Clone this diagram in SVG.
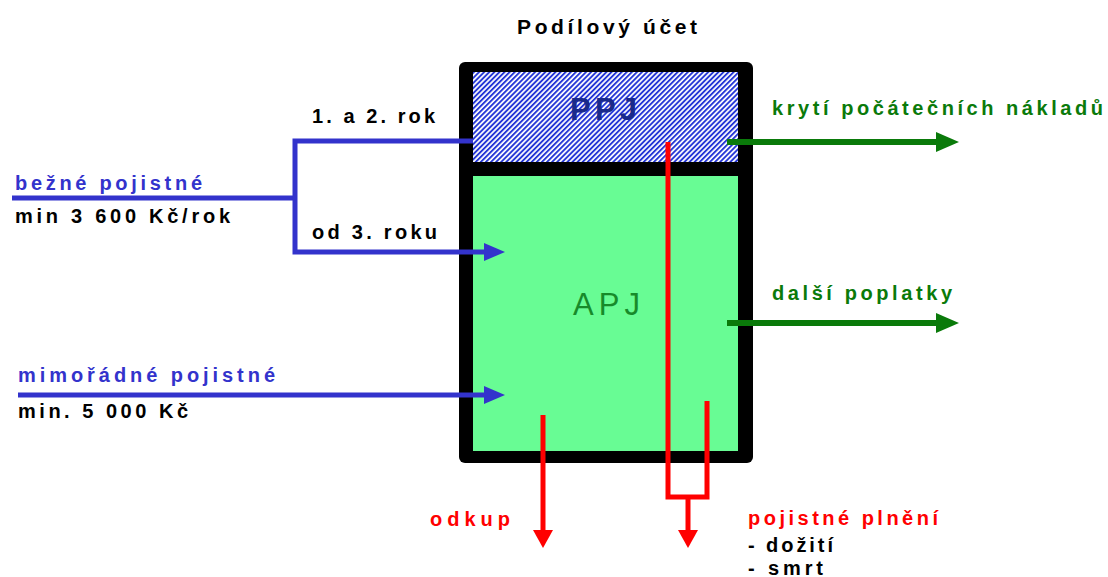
<svg xmlns="http://www.w3.org/2000/svg" width="1108" height="577" viewBox="0 0 1108 577">
  <style>
    text { font-family: "Liberation Sans", Arial, sans-serif; font-weight: bold; font-size: 20px; }
    .t21 { font-size: 21px; }
    .big { font-size: 31px; }
    .reg { font-weight: normal; }
    .blk { fill: #000000; }
    .blu { fill: #3333cc; }
    .grn { fill: #0a7a0a; }
    .red { fill: #ff0000; }
    .cb { fill: none; stroke: #3333cc; stroke-width: 5; stroke-linejoin: miter; }
    .cg { fill: none; stroke: #0a7a0a; stroke-width: 6; }
    .cr { fill: none; stroke: #ff0000; stroke-width: 5; stroke-linejoin: miter; }
  </style>
  <defs>
    <pattern id="hatch" width="3.6" height="10" patternUnits="userSpaceOnUse" patternTransform="rotate(45)">
      <rect width="3.6" height="10" fill="#ffffff"/>
      <rect width="1.9" height="10" fill="#2536d6"/>
    </pattern>
    <marker id="ab" markerUnits="userSpaceOnUse" viewBox="0 -9 21 18" markerWidth="21" markerHeight="18" refX="0" refY="0" orient="auto" overflow="visible">
      <path d="M0,-9 L21,0 L0,9 z" fill="#3333cc"/>
    </marker>
    <marker id="ag" markerUnits="userSpaceOnUse" viewBox="0 -10 23 20" markerWidth="23" markerHeight="20" refX="0" refY="0" orient="auto" overflow="visible">
      <path d="M0,-10 L23,0 L0,10 z" fill="#0a7a0a"/>
    </marker>
    <marker id="ar" markerUnits="userSpaceOnUse" viewBox="0 -10 18 20" markerWidth="18" markerHeight="20" refX="0" refY="0" orient="auto" overflow="visible">
      <path d="M0,-10 L18,0 L0,10 z" fill="#ff0000"/>
    </marker>
  </defs>
  <rect width="1108" height="577" fill="#ffffff"/>

  <g id="title">
    <text x="517" y="34" class="t21 blk" textLength="180" lengthAdjust="spacing">Podílový účet</text>
  </g>

  <g id="ucet">
    <rect x="459" y="62" width="294" height="401" rx="6" fill="#000000"/>
    <g id="ppj">
      <rect x="473" y="72" width="265" height="90" fill="url(#hatch)"/>
      <text x="570" y="120" class="big" textLength="67" lengthAdjust="spacing" fill="#1a2a8a">PPJ</text>
    </g>
    <g id="apj">
      <rect x="473" y="176" width="265" height="275" fill="#68fc94"/>
      <text x="573" y="315" class="big reg" textLength="67" lengthAdjust="spacing" fill="#178a2a">APJ</text>
    </g>
  </g>

  <g id="connectors">
    <path class="cb" d="M12,198 H295"/>
    <path class="cb" d="M473,141 H295 V252 H484" marker-end="url(#ab)"/>
    <path class="cb" d="M18,395 H484" marker-end="url(#ab)"/>
    <path class="cg" d="M727,142 H936" marker-end="url(#ag)"/>
    <path class="cg" d="M727,323 H936" marker-end="url(#ag)"/>
    <path class="cr" d="M668,142 V497 H707 V401"/>
    <path class="cr" d="M688,497 V530" marker-end="url(#ar)"/>
    <path class="cr" d="M543,415 V530" marker-end="url(#ar)"/>
  </g>

  <g id="bezne">
    <text x="15" y="190" textLength="187" lengthAdjust="spacing" class="blu">bežné pojistné</text>
    <text x="15" y="223" textLength="215" lengthAdjust="spacing" class="blk">min 3 600 Kč/rok</text>
  </g>
  <g id="rok12">
    <text x="312" y="123" textLength="123" lengthAdjust="spacing" class="blk">1. a 2. rok</text>
  </g>
  <g id="rok3">
    <text x="312" y="239" textLength="125" lengthAdjust="spacing" class="blk">od 3. roku</text>
  </g>
  <g id="mimoradne">
    <text x="18" y="382" textLength="257" lengthAdjust="spacing" class="blu">mimořádné pojistné</text>
    <text x="18" y="418" textLength="170" lengthAdjust="spacing" class="blk">min. 5 000 Kč</text>
  </g>
  <g id="kryti">
    <text x="772" y="115" textLength="331" lengthAdjust="spacing" class="grn">krytí počátečních nákladů</text>
  </g>
  <g id="poplatky">
    <text x="772" y="300" textLength="180" lengthAdjust="spacing" class="grn">další poplatky</text>
  </g>
  <g id="odkup">
    <text x="430" y="526" textLength="80" lengthAdjust="spacing" class="red">odkup</text>
  </g>
  <g id="plneni">
    <text x="748" y="525" class="red" textLength="190" lengthAdjust="spacing">pojistné plnění</text>
    <text x="748" y="552" textLength="85" lengthAdjust="spacing" class="blk">- dožití</text>
    <text x="748" y="575" textLength="75" lengthAdjust="spacing" class="blk">- smrt</text>
  </g>
</svg>
